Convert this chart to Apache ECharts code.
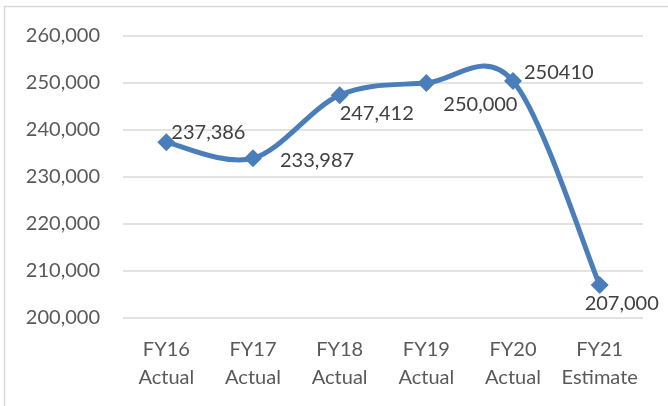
<!DOCTYPE html>
<html>
<head>
<meta charset="utf-8">
<script src="https://cdn.jsdelivr.net/npm/echarts@6/dist/echarts.min.js"></script>
<style>
  html, body { margin: 0; padding: 0; background: #ffffff; }
  #chart { width: 668px; height: 406px; }
</style>
</head>
<body>
<div id="chart"></div>
<script>
// Fiscal year headcount, actuals and estimate
const categories = ['FY16\nActual', 'FY17\nActual', 'FY18\nActual', 'FY19\nActual', 'FY20\nActual', 'FY21\nEstimate'];
const values = [237386, 233987, 247412, 250000, 250410, 207000];
const labelTexts = ['237,386', '233,987', '247,412', '250,000', '250410', '207,000'];
const yTicks = { min: 200000, max: 260000, step: 10000 };

// label nudges around each marker
const labelOffsets = [[-9, -10], [13, 2], [-14, 18], [3, 22], [-3, -9], [-29, 18]];

const lineColor = '#4a7ebb';
const textColor = '#595959';
const font = 'Lato, "Open Sans", sans-serif';

const chart = echarts.init(document.getElementById('chart'), null, { renderer: 'canvas' });

// Cardinal-spline segment from point i to point i+1 (tangent = (next - prev) / 6)
function renderSegment(params, api) {
  const i = params.dataIndex;
  if (i >= values.length - 1) return null;
  const pt = k => api.coord([Math.max(0, Math.min(values.length - 1, k)), values[Math.max(0, Math.min(values.length - 1, k))]]);
  const p0 = pt(i - 1), p1 = pt(i), p2 = pt(i + 1), p3 = pt(i + 2);
  return {
    type: 'bezierCurve',
    shape: {
      x1: p1[0], y1: p1[1],
      cpx1: p1[0] + (p2[0] - p0[0]) / 6, cpy1: p1[1] + (p2[1] - p0[1]) / 6,
      cpx2: p2[0] - (p3[0] - p1[0]) / 6, cpy2: p2[1] - (p3[1] - p1[1]) / 6,
      x2: p2[0], y2: p2[1]
    },
    style: { stroke: lineColor, lineWidth: 5, fill: null, lineCap: 'round' },
    silent: true
  };
}

chart.setOption({
  backgroundColor: '#ffffff',
  animation: false,
  grid: { left: 123, right: 25, top: 36, bottom: 88 },
  graphic: [{
    type: 'rect',
    shape: { x: 4.5, y: 6.5, width: 700, height: 440 },
    style: { fill: 'none', stroke: '#d9d9d9', lineWidth: 1.5 },
    silent: true
  }],
  xAxis: {
    type: 'category',
    data: categories,
    boundaryGap: true,
    axisLine: { show: false },
    axisTick: { show: false },
    axisLabel: {
      color: textColor, fontFamily: font, fontSize: 20,
      lineHeight: 28, margin: 18, interval: 0
    }
  },
  yAxis: {
    type: 'value',
    min: yTicks.min, max: yTicks.max, interval: yTicks.step,
    axisLine: { show: false },
    axisTick: { show: false },
    splitLine: { lineStyle: { color: '#d9d9d9', width: 1.5 } },
    axisLabel: {
      color: textColor, fontFamily: font, fontSize: 20, margin: 23,
      formatter: v => v.toLocaleString('en-US')
    }
  },
  series: [
    {
      type: 'custom',
      z: 1,
      clip: false,
      renderItem: renderSegment,
      data: values.map((v, i) => [i, v])
    },
    {
      type: 'line',
      z: 3,
      data: values.map((v, i) => ({
        value: v,
        label: { offset: labelOffsets[i], formatter: labelTexts[i] }
      })),
      symbol: 'diamond',
      symbolSize: 18,
      lineStyle: { width: 0, opacity: 0 },
      itemStyle: { color: lineColor },
      label: {
        show: true, position: 'right', distance: 5,
        color: '#404040', fontFamily: font, fontSize: 20
      }
    }
  ]
});
</script>
</body>
</html>
